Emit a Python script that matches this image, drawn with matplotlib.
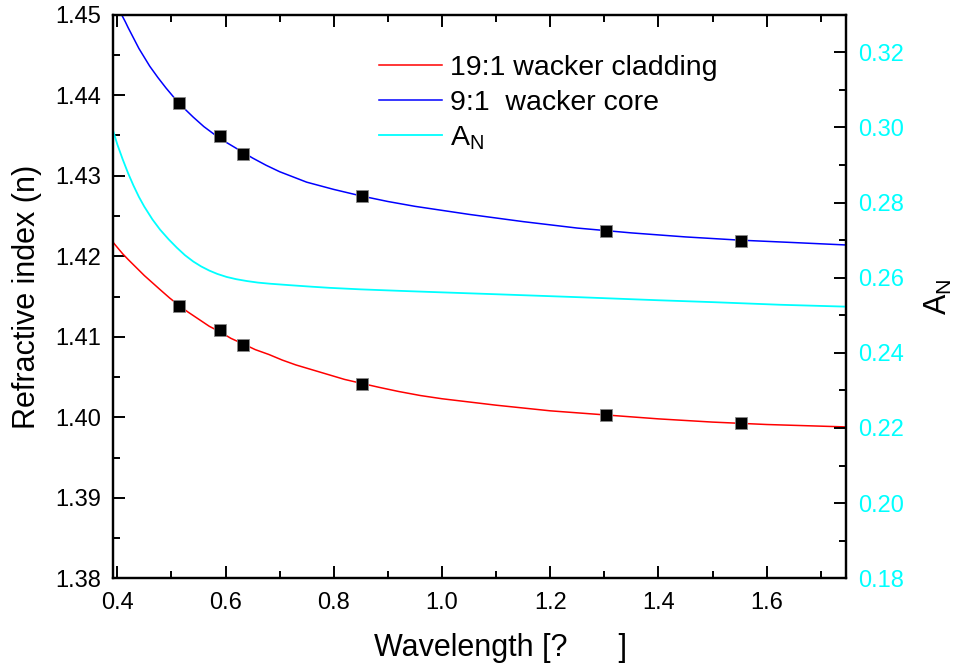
import numpy as np
import matplotlib
matplotlib.use("Agg")
import matplotlib.pyplot as plt
from matplotlib.ticker import MultipleLocator, FormatStrFormatter

plt.rcParams['font.family'] = ['Liberation Sans', 'DejaVu Sans']
plt.rcParams['mathtext.fontset'] = 'custom'
plt.rcParams['mathtext.rm'] = 'Liberation Sans'
plt.rcParams['mathtext.it'] = 'Liberation Sans'

# measured refractive index points (wavelength in um)
wl_pts = [0.514, 0.590, 0.633, 0.852, 1.303, 1.552]
n_core_pts = [1.4390, 1.4349, 1.4327, 1.4275, 1.4231, 1.4219]
n_clad_pts = [1.4138, 1.4109, 1.4090, 1.4041, 1.4003, 1.3993]

# dispersion curves
wl_core = [0.408, 0.415, 0.42, 0.43, 0.44, 0.45, 0.46, 0.475, 0.49, 0.505, 0.52, 0.54,
           0.56, 0.58, 0.60, 0.625, 0.65, 0.675, 0.70, 0.75, 0.80, 0.85, 0.90, 0.95,
           1.05, 1.15, 1.25, 1.35, 1.45, 1.55, 1.65, 1.7466]
n_core = [1.4500, 1.4491, 1.4484, 1.4471, 1.4458, 1.4447, 1.4436, 1.4422, 1.4409, 1.4397,
          1.4386, 1.4373, 1.4361, 1.4351, 1.4342, 1.4332, 1.4322, 1.4313, 1.4305, 1.4292,
          1.4283, 1.4275, 1.4268, 1.4262, 1.4252, 1.4243, 1.4235, 1.4229, 1.4224, 1.4220,
          1.4217, 1.4214]

wl_clad = [0.3926, 0.40, 0.41, 0.42, 0.435, 0.45, 0.465, 0.48, 0.497, 0.514, 0.53, 0.55,
           0.57, 0.59, 0.61, 0.633, 0.655, 0.68, 0.705, 0.73, 0.76, 0.79, 0.82, 0.852,
           0.885, 0.92, 0.96, 1.0, 1.1, 1.2, 1.3, 1.4, 1.5, 1.6, 1.7466]
n_clad = [1.4217, 1.4211, 1.4203, 1.4196, 1.4186, 1.4176, 1.4167, 1.4158, 1.4148, 1.4139,
          1.4131, 1.4122, 1.4113, 1.4106, 1.4098, 1.4091, 1.4084, 1.4078, 1.4071, 1.4065,
          1.4059, 1.4053, 1.4047, 1.4042, 1.4037, 1.4032, 1.4027, 1.4023, 1.4015, 1.4008,
          1.4003, 1.3998, 1.3994, 1.3991, 1.3988]

wl_an = [0.3926, 0.40, 0.41, 0.42, 0.43, 0.44, 0.45, 0.465, 0.479, 0.495, 0.51, 0.525,
         0.5405, 0.555, 0.57, 0.585, 0.6022, 0.62, 0.64, 0.66, 0.6823, 0.72, 0.76, 0.793,
         0.85, 0.9226, 1.0, 1.1, 1.2556, 1.4, 1.5, 1.625, 1.7466]
an = [0.2990, 0.2955, 0.2915, 0.2878, 0.2845, 0.2815, 0.2789, 0.2755, 0.2728, 0.2702,
      0.2680, 0.2660, 0.2643, 0.2630, 0.2619, 0.2610, 0.2602, 0.2596, 0.2591, 0.2587,
      0.2584, 0.2580, 0.2576, 0.2573, 0.2569, 0.2565, 0.2561, 0.2556, 0.2548, 0.2540,
      0.2535, 0.2528, 0.2523]

fig, ax = plt.subplots(figsize=(9.56, 6.69), dpi=100)
fig.subplots_adjust(left=0.1185, right=0.885, bottom=0.1356, top=0.978)
ax2 = ax.twinx()

l_clad, = ax.plot(wl_clad, n_clad, color='red', lw=1.1)
l_core, = ax.plot(wl_core, n_core, color='blue', lw=1.1)
l_an, = ax2.plot(wl_an, an, color='cyan', lw=1.3)
ax.plot(wl_pts, n_core_pts, 's', color='black', ms=9, mec='#888888', mew=0.6, zorder=5)
ax.plot(wl_pts, n_clad_pts, 's', color='black', ms=9, mec='#888888', mew=0.6, zorder=5)

ax.set_xlim(0.3926, 1.7466)
ax.set_ylim(1.38, 1.45)
ax2.set_ylim(0.18, 0.33)

ax.xaxis.set_major_locator(MultipleLocator(0.2))
ax.xaxis.set_minor_locator(MultipleLocator(0.1))
ax.xaxis.set_major_formatter(FormatStrFormatter('%.1f'))
ax.yaxis.set_major_locator(MultipleLocator(0.01))
ax.yaxis.set_minor_locator(MultipleLocator(0.005))
ax.yaxis.set_major_formatter(FormatStrFormatter('%.2f'))
ax2.yaxis.set_major_locator(MultipleLocator(0.02))
ax2.yaxis.set_minor_locator(MultipleLocator(0.01))
ax2.yaxis.set_major_formatter(FormatStrFormatter('%.2f'))

ax.tick_params(which='both', direction='in', top=True, right=False, width=1.4, labelsize=17)
ax.tick_params(which='major', length=8.5)
ax.tick_params(which='minor', length=5)
ax.tick_params(axis='y', pad=9)
ax.tick_params(axis='x', pad=10)
ax2.tick_params(which='both', direction='in', width=1.4, labelsize=17, labelcolor='cyan', pad=9)
ax2.tick_params(which='major', length=8.5)
ax2.tick_params(which='minor', length=5)

for a in (ax, ax2):
    for s in a.spines.values():
        s.set_linewidth(1.6)

ax.set_xlabel('Wavelength [?      ]', fontsize=22)
ax.xaxis.set_label_coords(0.529, -0.097)
ax.set_ylabel('Refractive index (n)', fontsize=22, labelpad=9)
ax2.set_ylabel('A$_{\\mathrm{N}}$', fontsize=22, labelpad=13)

ax2.legend([l_clad, l_core, l_an],
           ['19:1 wacker cladding', '9:1  wacker core', 'A$_{\\mathrm{N}}$'],
           loc='upper left', bbox_to_anchor=(379 / 956, 1 - 55 / 669),
           bbox_transform=fig.transFigure, frameon=False, fontsize=20.5,
           handlelength=2.2, handletextpad=0.3, labelspacing=0.3,
           borderpad=0, borderaxespad=0)

fig.savefig('out.png', dpi=100)
